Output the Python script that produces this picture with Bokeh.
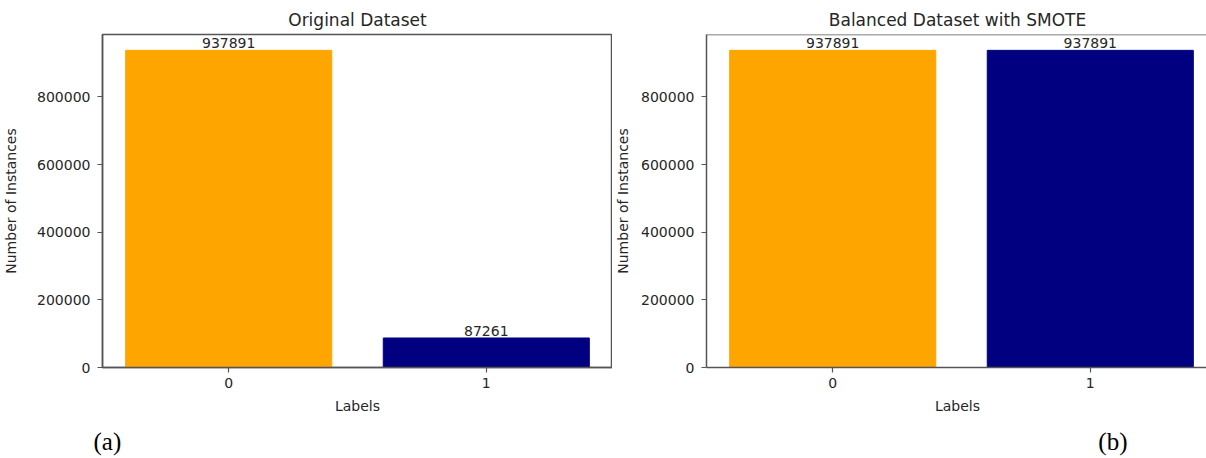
from bokeh.plotting import figure
from bokeh.models import ColumnDataSource, FixedTicker, Range1d, NumeralTickFormatter, Span, Title
from bokeh.layouts import row
from bokeh.embed import file_html
from bokeh.resources import INLINE

# ---- data ----
labels = [0, 1]
original_counts = [937891, 87261]
smote_counts = [937891, 937891]
bar_colors = ["#FFA500", "#000080"]
y_ticks = [0, 200000, 400000, 600000, 800000]
titles = ["Original Dataset", "Balanced Dataset with SMOTE"]
panel_tags = ["(a)", "(b)"]
x_label = "Labels"
y_label = "Number of Instances"

FONT = "DejaVu Sans"
TXT = "#262626"
SPINE = "#555555"
BAR_W = 0.8


def make(counts, title, tag, border_left, border_right, frame_w, clip_right,
         tag_align, tag_offset, ylabel_standoff):
    lo = min(labels) - BAR_W / 2
    hi = max(labels) + BAR_W / 2
    margin = 0.05 * (hi - lo)
    full_span = (hi - lo) + 2 * margin
    unit_px = 510 / full_span
    x_start = lo - margin
    x_end = hi + margin if not clip_right else x_start + frame_w / unit_px
    y_end = max(counts) * 1.05

    p = figure(
        frame_width=frame_w, frame_height=333,
        x_range=Range1d(x_start, x_end), y_range=Range1d(0, y_end),
        output_backend="svg", toolbar_location=None, tools="",
        min_border_left=border_left, min_border_right=border_right,
        min_border_top=34, min_border_bottom=91,
        background_fill_color="white", border_fill_color="white",
    )
    src = ColumnDataSource(dict(x=labels, top=counts, color=bar_colors,
                                txt=[str(c) for c in counts]))
    p.vbar(x="x", top="top", width=BAR_W, fill_color="color", line_color="color", source=src)
    p.text(x="x", y="top", text="txt", source=src, text_align="center",
           text_baseline="bottom", y_offset=-2, text_font_size="14px", text_color=TXT,
           text_font={"value": FONT})

    p.grid.visible = False
    if clip_right:
        p.outline_line_color = None
        p.add_layout(Span(location=y_end, dimension="width", line_color=SPINE, line_width=1.5))
    else:
        p.outline_line_color = SPINE
        p.outline_line_width = 1.5

    for ax in (p.xaxis[0], p.yaxis[0]):
        ax.axis_line_color = SPINE
        ax.axis_line_width = 1.5
        ax.major_tick_line_color = SPINE
        ax.major_tick_line_width = 1.2
        ax.major_tick_out = 5
        ax.major_tick_in = 0
        ax.minor_tick_line_color = None
        ax.major_label_text_font = FONT
        ax.major_label_text_font_size = "14px"
        ax.major_label_text_color = TXT
        ax.axis_label_text_font = FONT
        ax.axis_label_text_font_size = "14px"
        ax.axis_label_text_font_style = "normal"
        ax.axis_label_text_color = TXT

    p.xaxis.ticker = FixedTicker(ticks=labels)
    p.xaxis.axis_label = x_label
    p.xaxis.major_label_standoff = 5
    p.xaxis.axis_label_standoff = 7

    p.yaxis.ticker = FixedTicker(ticks=y_ticks)
    p.yaxis.formatter = NumeralTickFormatter(format="0")
    p.yaxis.axis_label = y_label
    p.yaxis.major_label_standoff = 7
    p.yaxis.axis_label_standoff = ylabel_standoff

    p.title.text = title
    p.title.text_font = FONT
    p.title.text_font_size = "17px"
    p.title.text_font_style = "normal"
    p.title.text_color = TXT
    p.title.align = "center"
    p.title.standoff = 9

    p.add_layout(Title(text=tag, align=tag_align, offset=tag_offset,
                       text_font="Liberation Serif", text_font_size="25px",
                       text_font_style="normal", text_color="#000000", standoff=18), "below")
    return p


p1 = make(original_counts, titles[0], panel_tags[0], 101, 0, 510, False, "left", -9, 15)
p2 = make(smote_counts, titles[1], panel_tags[1], 93, 0, 502, True, "right", 81, 7)

layout = row(p1, p2, spacing=0)
open("out.html", "w").write(file_html(layout, INLINE))
